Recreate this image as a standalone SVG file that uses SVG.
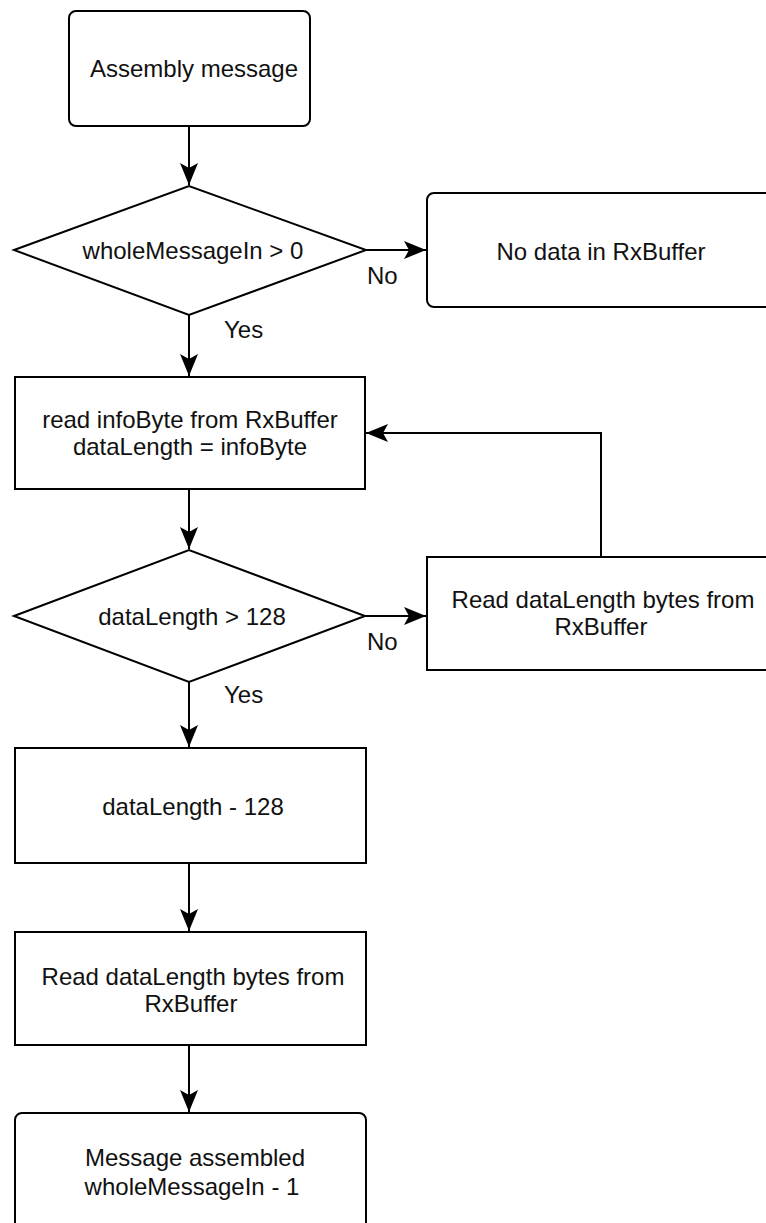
<svg xmlns="http://www.w3.org/2000/svg" width="766" height="1223" viewBox="0 0 766 1223">
<style>
.n{fill:#fff;stroke:#000;stroke-width:2}
.t{font-family:"Liberation Sans",Arial,sans-serif;font-size:24px;fill:#111;text-anchor:middle}
.l{font-family:"Liberation Sans",Arial,sans-serif;font-size:24px;fill:#111}
.c{fill:none;stroke:#000;stroke-width:2}
</style>
<defs>
<marker id="arr" markerUnits="userSpaceOnUse" markerWidth="24" markerHeight="20" refX="22" refY="9" orient="auto" viewBox="0 0 24 20">
<path d="M0,0 L22,9 L0,18 L5,9 Z" fill="#000"/>
</marker>
</defs>
<rect width="766" height="1223" fill="#fff"/>
<g id="connectors">
<line class="c" x1="189" y1="126" x2="189" y2="185" marker-end="url(#arr)"/>
<line class="c" x1="366" y1="250" x2="426" y2="250" marker-end="url(#arr)"/>
<line class="c" x1="189" y1="315" x2="189" y2="376" marker-end="url(#arr)"/>
<polyline class="c" points="601,557 601,433 366,433" marker-end="url(#arr)"/>
<line class="c" x1="189" y1="489" x2="189" y2="549" marker-end="url(#arr)"/>
<line class="c" x1="365" y1="616" x2="426" y2="616" marker-end="url(#arr)"/>
<line class="c" x1="189" y1="682" x2="189" y2="747" marker-end="url(#arr)"/>
<line class="c" x1="189" y1="863" x2="189" y2="931" marker-end="url(#arr)"/>
<line class="c" x1="189" y1="1045" x2="189" y2="1112" marker-end="url(#arr)"/>
<text class="l" x="367" y="284">No</text>
<text class="l" x="224" y="338">Yes</text>
<text class="l" x="367" y="650">No</text>
<text class="l" x="224" y="703">Yes</text>
</g>
<g id="start">
<rect class="n" x="69" y="11" width="241" height="115" rx="7"/>
<text class="t" x="194" y="77">Assembly message</text>
</g>
<g id="check-whole">
<polygon class="n" points="14,250 189,186 366,250 189,315"/>
<text class="t" x="193" y="259">wholeMessageIn &gt; 0</text>
</g>
<g id="no-data">
<rect class="n" x="427" y="193" width="352" height="114" rx="7"/>
<text class="t" x="601" y="260">No data in RxBuffer</text>
</g>
<g id="read-info">
<rect class="n" x="15" y="377" width="350" height="112"/>
<text class="t" x="190" y="428">read infoByte from RxBuffer</text>
<text class="t" x="190" y="455">dataLength = infoByte</text>
</g>
<g id="check-length">
<polygon class="n" points="14,616 189,550 365,616 189,682"/>
<text class="t" x="192" y="625">dataLength &gt; 128</text>
</g>
<g id="read-bytes-loop">
<rect class="n" x="427" y="557" width="352" height="113"/>
<text class="t" x="603" y="608">Read dataLength bytes from</text>
<text class="t" x="601" y="635">RxBuffer</text>
</g>
<g id="subtract">
<rect class="n" x="15" y="748" width="351" height="115"/>
<text class="t" x="193" y="815">dataLength - 128</text>
</g>
<g id="read-bytes">
<rect class="n" x="15" y="932" width="351" height="113"/>
<text class="t" x="193" y="985">Read dataLength bytes from</text>
<text class="t" x="191" y="1012">RxBuffer</text>
</g>
<g id="assembled">
<rect class="n" x="15" y="1113" width="351" height="140" rx="7"/>
<text class="t" x="195" y="1166">Message assembled</text>
<text class="t" x="192" y="1195">wholeMessageIn - 1</text>
</g>
</svg>
